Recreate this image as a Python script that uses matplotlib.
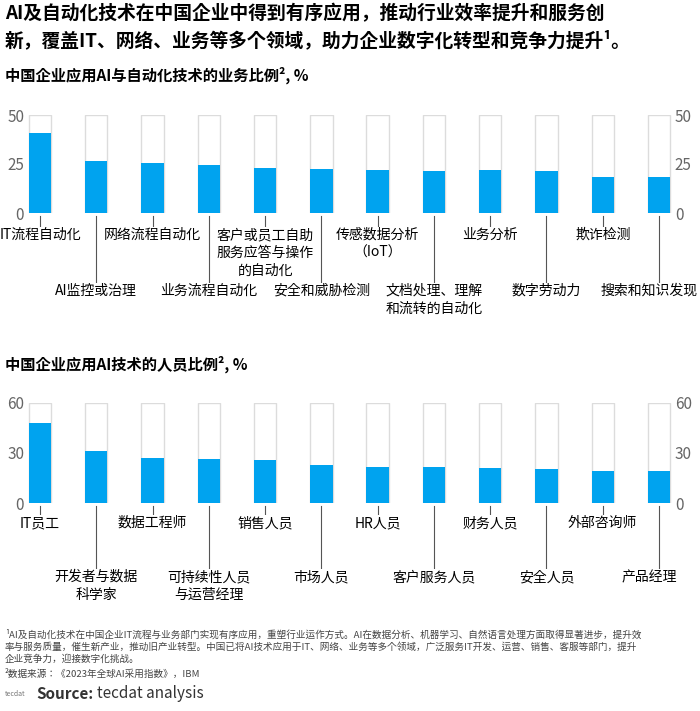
import matplotlib.pyplot as plt
import matplotlib.transforms as mtransforms
from matplotlib import font_manager

names = {f.name for f in font_manager.fontManager.ttflist}
cjk = [n for n in ["Noto Sans CJK SC", "Noto Sans CJK JP", "Noto Sans CJK TC", "Noto Sans CJK KR"] if n in names]
plt.rcParams["font.family"] = cjk + ["DejaVu Sans"]

# ---------------------------
# DATA
# ---------------------------
biz_labels = ["IT流程自动化", "AI监控或治理", "网络流程自动化", "业务流程自动化",
              "客户或员工自助\n服务应答与操作\n的自动化", "安全和威胁检测",
              "传感数据分析\n（IoT）", "文档处理、理解\n和流转的自动化", "业务分析",
              "数字劳动力", "欺诈检测", "搜索和知识发现"]
biz_values = [41, 26.5, 25.5, 24.5, 23, 22.5, 22, 21.5, 22, 21.5, 18.5, 18.5]
biz_ticks = [0, 25, 50]

staff_labels = ["IT员工", "开发者与数据\n科学家", "数据工程师", "可持续性人员\n与运营经理",
                "销售人员", "市场人员", "HR人员", "客户服务人员", "财务人员",
                "安全人员", "外部咨询师", "产品经理"]
staff_values = [48, 31, 27, 26.5, 26, 23, 21.5, 21.5, 21, 20.5, 19, 19]
staff_ticks = [0, 30, 60]

BLUE = "#00a3ef"
GREY = "#dcdcdc"
W, H = 700, 711

fig = plt.figure(figsize=(7, 7.11), dpi=100)

fig.text(5 / W, 1 - 4 / H,
         "AI及自动化技术在中国企业中得到有序应用，推动行业效率提升和服务创\n新，覆盖IT、网络、业务等多个领域，助力企业数字化转型和竞争力提升¹。",
         fontsize=13.5, fontweight="bold", va="top", ha="left", linespacing=1.45)


def panel(top_px, bottom_px, title, title_y, values, labels, ticks, label_rows):
    ax = fig.add_axes([27 / W, 1 - bottom_px / H, 645 / W, (bottom_px - top_px) / H])
    x = list(range(len(values)))
    ax.bar(x, [ticks[-1]] * len(x), width=0.4, facecolor="white",
           edgecolor=GREY, linewidth=1, zorder=1)
    ax.bar(x, values, width=0.4, color=BLUE, zorder=2)
    ax.set_xlim(-0.23, 11.23)
    ax.set_ylim(0, ticks[-1])
    ax.set_yticks(ticks)
    ax.set_xticks([])
    for s in ax.spines.values():
        s.set_visible(False)
    ax.tick_params(axis="y", length=0, labelsize=11, colors="#666666", pad=2)
    ax2 = ax.twinx()
    ax2.set_ylim(0, ticks[-1])
    ax2.set_yticks(ticks)
    for s in ax2.spines.values():
        s.set_visible(False)
    ax2.tick_params(axis="y", length=0, labelsize=11, colors="#666666", pad=2)

    fig.text(5 / W, 1 - title_y / H, title, fontsize=11, fontweight="bold",
             va="center", ha="left")

    trans = mtransforms.blended_transform_factory(ax.transData, fig.transFigure)
    up_y, down_y = label_rows
    for i, lab in enumerate(labels):
        ly = up_y if i % 2 == 0 else down_y
        ax.plot([i, i], [1 - (bottom_px + 3) / H, 1 - (ly - 2) / H],
                transform=trans, color="#555555", lw=0.8, clip_on=False)
        ax.text(i - (0.18 if i == 11 else 0), 1 - ly / H, lab, transform=trans,
                ha="center", va="top", fontsize=10, linespacing=1.35,
                bbox=dict(facecolor="white", edgecolor="none", pad=1))
    return ax


panel(115, 213, "中国企业应用AI与自动化技术的业务比例², %", 75,
      biz_values, biz_labels, biz_ticks, (228, 284))
panel(403, 503, "中国企业应用AI技术的人员比例², %", 364,
      staff_values, staff_labels, staff_ticks, (516, 570))

fig.text(5 / W, 1 - 629 / H,
         "¹AI及自动化技术在中国企业IT流程与业务部门实现有序应用，重塑行业运作方式。AI在数据分析、机器学习、自然语言处理方面取得显著进步，提升效\n"
         "率与服务质量，催生新产业，推动旧产业转型。中国已将AI技术应用于IT、网络、业务等多个领域，广泛服务IT开发、运营、销售、客服等部门，提升\n"
         "企业竞争力，迎接数字化挑战。",
         fontsize=6.9, va="top", ha="left", color="#444444", linespacing=1.35)
fig.text(5 / W, 1 - 674 / H, "²数据来源：《2023年全球AI采用指数》，IBM",
         fontsize=6.9, va="center", ha="left", color="#444444")
fig.text(5 / W, 1 - 694 / H, "tecdat", fontsize=5, va="center", ha="left", color="#777777")
fig.text(36 / W, 1 - 694 / H, "Source:", fontsize=11, fontweight="bold",
         va="center", ha="left", color="#333333")
fig.text(97 / W, 1 - 694 / H, "tecdat analysis", fontsize=11,
         va="center", ha="left", color="#333333")

fig.savefig("out.png", dpi=100)
